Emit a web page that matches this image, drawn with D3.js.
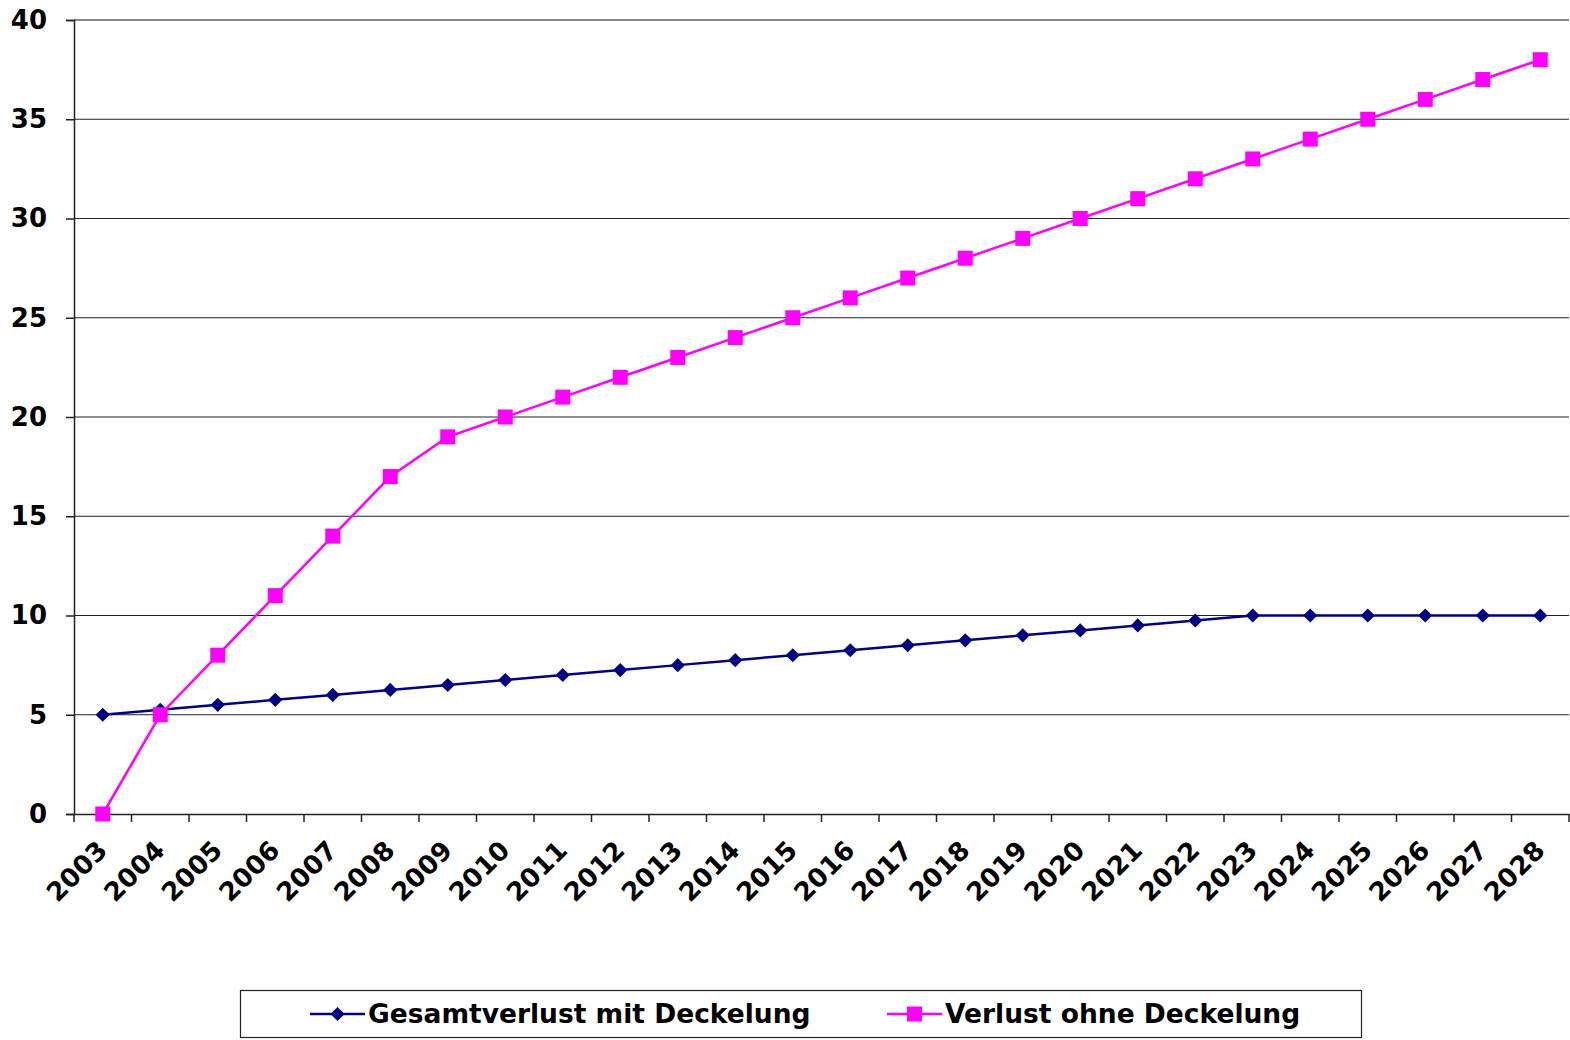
<!DOCTYPE html>
<html><head><meta charset="utf-8">
<script src="https://cdn.jsdelivr.net/npm/d3@7"></script>
<style>body{margin:0;background:#fff}svg{display:block;font-family:"DejaVu Sans",Verdana,sans-serif;font-weight:bold}</style>
</head><body>
<svg id="c" width="1570" height="1040"></svg>
<script>
const years = ["2003","2004","2005","2006","2007","2008","2009","2010","2011","2012","2013","2014","2015","2016","2017","2018","2019","2020","2021","2022","2023","2024","2025","2026","2027","2028"];
const mitDeckelung = [5,5.25,5.5,5.75,6,6.25,6.5,6.75,7,7.25,7.5,7.75,8,8.25,8.5,8.75,9,9.25,9.5,9.75,10,10,10,10,10,10];
const ohneDeckelung = [0,5,8,11,14,17,19,20,21,22,23,24,25,26,27,28,29,30,31,32,33,34,35,36,37,38];
const yTicks = [0,5,10,15,20,25,30,35,40];
const seriesNames = ["Gesamtverlust mit Deckelung","Verlust ohne Deckelung"];

const svg = d3.select("#c");
const L=74, R=1569, T=20, B=814;
const x = d3.scaleBand().domain(years).range([L,R]);
const y = d3.scaleLinear().domain([0,40]).range([B,T]);

svg.append("g").selectAll("line").data(yTicks.filter(d=>d>0)).join("line")
  .attr("x1",L).attr("x2",R).attr("y1",d=>y(d)).attr("y2",d=>y(d))
  .attr("stroke",d=>d===40?"#888":"#222").attr("stroke-width",d=>d===40?2:1.2);

const ya = svg.append("g").attr("transform",`translate(${L},0)`)
  .call(d3.axisLeft(y).tickValues(yTicks).tickSize(8).tickPadding(19));
ya.select(".domain").attr("stroke","#222").attr("stroke-width",1.5);
ya.selectAll(".tick line").attr("stroke","#222").attr("stroke-width",1.5);
ya.selectAll("text").attr("font-size",26).attr("font-weight","bold").attr("fill","#000").attr("font-family","DejaVu Sans");

const xa = svg.append("g").attr("transform",`translate(0,${B})`)
  .call(d3.axisBottom(x).tickSize(0).tickPadding(0));
xa.select(".domain").attr("stroke","#222").attr("stroke-width",1.5);
xa.selectAll(".tick text").attr("font-size",26).attr("font-weight","bold").attr("fill","#000")
  .attr("font-family","DejaVu Sans")
  .attr("text-anchor","end").attr("dy",0)
  .attr("transform","translate(6,38) rotate(-45)");
svg.append("g").selectAll("line").data(d3.range(years.length+1)).join("line")
  .attr("x1",i=>L+i*x.step()).attr("x2",i=>L+i*x.step())
  .attr("y1",B).attr("y2",B+8).attr("stroke","#222").attr("stroke-width",1.5);

const cx = d=>x(d)+x.bandwidth()/2;
const line = d3.line().x((d,i)=>cx(years[i])).y(d=>y(d));

svg.append("path").datum(mitDeckelung).attr("d",line).attr("fill","none").attr("stroke","#000080").attr("stroke-width",2.5);
svg.append("path").datum(ohneDeckelung).attr("d",line).attr("fill","none").attr("stroke","#ff00ff").attr("stroke-width",2.5);

svg.append("g").selectAll("path").data(mitDeckelung).join("path")
  .attr("d",d3.symbol().type(d3.symbolSquare).size(100))
  .attr("transform",(d,i)=>`translate(${cx(years[i])},${y(d)}) rotate(45)`).attr("fill","#000080");
svg.append("g").selectAll("rect").data(ohneDeckelung).join("rect")
  .attr("x",(d,i)=>cx(years[i])-7.5).attr("y",d=>y(d)-7.5).attr("width",15).attr("height",15).attr("fill","#ff00ff");

const lg = svg.append("g");
lg.append("rect").attr("x",240.5).attr("y",990.5).attr("width",1121).attr("height",47).attr("fill","#fff").attr("stroke","#222").attr("stroke-width",1.2);
const items=[{n:seriesNames[0],c:"#000080",t:"d",x0:310},{n:seriesNames[1],c:"#ff00ff",t:"s",x0:887}];
items.forEach(it=>{
  const yy=1014;
  lg.append("line").attr("x1",it.x0).attr("x2",it.x0+55).attr("y1",yy).attr("y2",yy).attr("stroke",it.c).attr("stroke-width",2.5);
  if(it.t==="d") lg.append("path").attr("d",d3.symbol().type(d3.symbolSquare).size(100)).attr("transform",`translate(${it.x0+27.5},${yy}) rotate(45)`).attr("fill",it.c);
  else lg.append("rect").attr("x",it.x0+27.5-7.5).attr("y",yy-7.5).attr("width",15).attr("height",15).attr("fill",it.c);
  lg.append("text").attr("x",it.x0+58).attr("y",yy+9).attr("font-size",26.5).attr("fill","#000").text(it.n);
});
</script>
</body></html>
